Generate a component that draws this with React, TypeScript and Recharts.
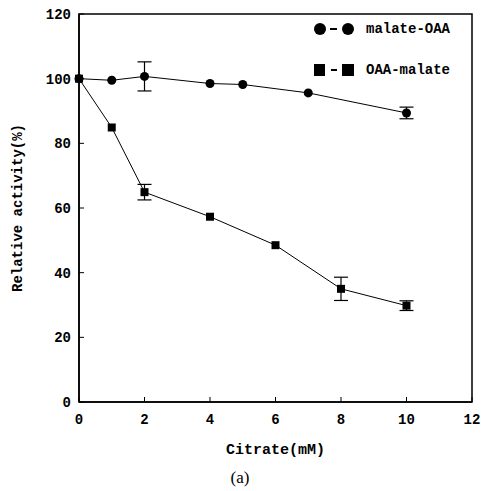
import {
  ScatterChart,
  Scatter,
  XAxis,
  YAxis,
  ZAxis,
  ErrorBar,
  ReferenceArea,
  Legend,
} from "recharts";

const malateX = [0, 1, 2, 4, 5, 7, 10];
const malateY = [100, 99.5, 100.7, 98.5, 98.2, 95.6, 89.4];
const malateErr = [0, 0, 4.5, 0, 0, 0, 1.8];

const oaaX = [0, 1, 2, 4, 6, 8, 10];
const oaaY = [100, 84.9, 64.9, 57.3, 48.5, 35, 29.8];
const oaaErr = [0, 0, 2.4, 0, 0, 3.6, 1.5];

const xTicks = [0, 2, 4, 6, 8, 10, 12];
const yTicks = [0, 20, 40, 60, 80, 100, 120];

const seriesNames = ["malate-OAA", "OAA-malate"];

const FONT = "'Liberation Mono', 'DejaVu Sans Mono', monospace";

const malateData = malateX.map((x, i) => ({ x, y: malateY[i], err: malateErr[i] }));
const oaaData = oaaX.map((x, i) => ({ x, y: oaaY[i], err: oaaErr[i] }));

function YTick(props: any) {
  const { x, y, payload } = props;
  return (
    <g>
      <line x1={x} x2={x + 5} y1={y} y2={y} stroke="#000" strokeWidth={1} />
      <text
        x={x - 8}
        y={y + 5}
        textAnchor="end"
        fontFamily={FONT}
        fontWeight="bold"
        fontSize={14}
        fill="#000"
      >
        {payload.value}
      </text>
    </g>
  );
}

function XTick(props: any) {
  const { x, y, payload } = props;
  return (
    <g>
      <line x1={x} x2={x} y1={y} y2={y - 5} stroke="#000" strokeWidth={1} />
      <text
        x={x}
        y={y + 22}
        textAnchor="middle"
        fontFamily={FONT}
        fontWeight="bold"
        fontSize={14}
        fill="#000"
      >
        {payload.value}
      </text>
    </g>
  );
}

function LegendBox() {
  const rowStyle = {
    display: "flex",
    alignItems: "center",
    height: 14,
    fontFamily: FONT,
    fontWeight: "bold" as const,
    fontSize: 14,
    color: "#000",
    whiteSpace: "nowrap" as const,
  };
  return (
    <div>
      <div style={rowStyle}>
        <svg width={54} height={14}>
          <circle cx={8} cy={7} r={6} fill="#000" />
          <line x1={18} x2={25} y1={7} y2={7} stroke="#000" strokeWidth={2} />
          <circle cx={36} cy={7} r={6} fill="#000" />
        </svg>
        <span>{seriesNames[0]}</span>
      </div>
      <div style={{ ...rowStyle, marginTop: 27 }}>
        <svg width={54} height={14}>
          <rect x={2} y={1} width={11} height={12} fill="#000" />
          <line x1={19} x2={25} y1={7} y2={7} stroke="#000" strokeWidth={2} />
          <rect x={30} y={1} width={12} height={12} fill="#000" />
        </svg>
        <span>{seriesNames[1]}</span>
      </div>
    </div>
  );
}

export default function App() {
  return (
    <div style={{ position: "absolute", left: 0, top: 0, width: 481, height: 491, background: "#fff" }}>
      <ScatterChart
        width={481}
        height={491}
        margin={{ top: 14, right: 9, bottom: 49, left: 20 }}
      >
        <XAxis
          type="number"
          dataKey="x"
          domain={[0, 12]}
          ticks={xTicks}
          height={40}
          tickSize={0}
          tickMargin={0}
          tickLine={false}
          axisLine={{ stroke: "#000", strokeWidth: 1.5 }}
          tick={<XTick />}
          interval={0}
          label={(p: any) => {
            const vb = p.viewBox;
            return (
              <g>
                <text
                  x={vb.x + vb.width / 2}
                  y={vb.y + 52}
                  textAnchor="middle"
                  fontFamily={FONT}
                  fontWeight="bold"
                  fontSize={15}
                  fill="#000"
                >
                  Citrate(mM)
                </text>
                <text
                  x={240}
                  y={vb.y + 81}
                  textAnchor="middle"
                  fontFamily="'Liberation Serif', serif"
                  fontSize={17}
                  fill="#000"
                >
                  (a)
                </text>
              </g>
            );
          }}
        />
        <YAxis
          type="number"
          dataKey="y"
          domain={[0, 120]}
          ticks={yTicks}
          width={59}
          tickSize={0}
          tickMargin={0}
          tickLine={false}
          axisLine={{ stroke: "#000", strokeWidth: 1.5 }}
          tick={<YTick />}
          interval={0}
          label={(p: any) => {
            const vb = p.viewBox;
            const cy = vb.y + vb.height / 2;
            return (
              <text
                x={22}
                y={cy}
                transform={`rotate(-90, 22, ${cy})`}
                textAnchor="middle"
                fontFamily={FONT}
                fontWeight="bold"
                fontSize={14}
                fill="#000"
              >
                Relative activity(%)
              </text>
            );
          }}
        />
        <ZAxis range={[125, 125]} />
        <ReferenceArea
          x1={0}
          x2={12}
          y1={0}
          y2={120}
          fill="none"
          stroke="#000"
          strokeWidth={1.5}
        />
        <Legend
          layout="vertical"
          align="center"
          verticalAlign="middle"
          wrapperStyle={{ top: 22, left: 312, width: 168 }}
          content={() => <LegendBox />}
        />
        <Scatter
          name={seriesNames[0]}
          data={malateData}
          fill="#000"
          shape="circle"
          line={{ stroke: "#000", strokeWidth: 1 }}
          isAnimationActive={false}
        >
          <ErrorBar dataKey="err" direction="y" width={7} stroke="#000" strokeWidth={1.2} />
        </Scatter>
        <Scatter
          name={seriesNames[1]}
          data={oaaData}
          fill="#000"
          shape="square"
          line={{ stroke: "#000", strokeWidth: 1 }}
          isAnimationActive={false}
        >
          <ErrorBar dataKey="err" direction="y" width={7} stroke="#000" strokeWidth={1.2} />
        </Scatter>
      </ScatterChart>
    </div>
  );
}
